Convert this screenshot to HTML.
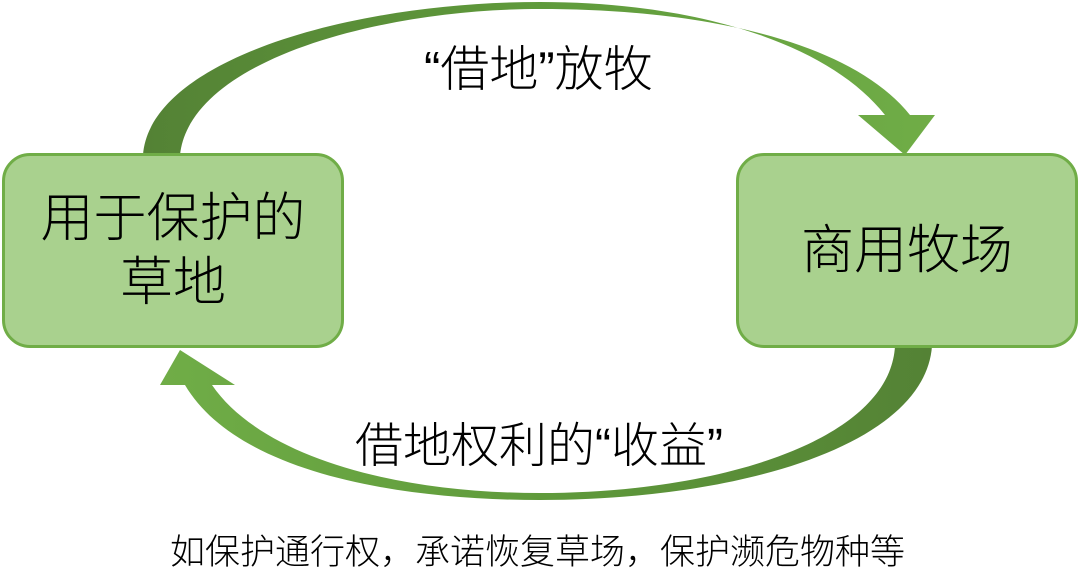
<!DOCTYPE html>
<html><head><meta charset="utf-8"><style>
html,body{margin:0;padding:0;background:#fff;}
body{width:1080px;height:588px;position:relative;overflow:hidden;font-family:"Liberation Sans","Noto Sans CJK SC",sans-serif;color:#000;}
.box{position:absolute;background:#a9d18e;border:3px solid #70ad47;border-radius:28px;box-sizing:border-box;display:flex;align-items:center;justify-content:center;text-align:center;font-size:53px;line-height:64px;font-weight:300;}
.t{position:absolute;white-space:nowrap;font-weight:300;}
</style></head><body>
<svg width="1080" height="588" style="position:absolute;left:0;top:0">
<defs>
<linearGradient id="g1" x1="0" x2="1" y1="0" y2="0"><stop offset="0" stop-color="#548235"/><stop offset="0.5" stop-color="#5f9a3b"/><stop offset="1" stop-color="#70ad47"/></linearGradient>
<linearGradient id="g2" x1="1" x2="0" y1="0" y2="0"><stop offset="0" stop-color="#548235"/><stop offset="0.5" stop-color="#5f9a3b"/><stop offset="1" stop-color="#70ad47"/></linearGradient>
</defs>
<path d="M143,155 C150,60 350,2 540,2 C700,2 830,45 885,115 L858,115 L905,155 L935,115 L910,115 C850,40 700,9 540,9 C380,9 190,60 180,155 Z" fill="url(#g1)"/>
<path d="M932,346 C925,445 740,500 540,500 C390,500 235,470 185,385 L160,385 L180,350 L235,385 L212,385 C260,455 390,493 540,493 C720,493 890,440 895,346 Z" fill="url(#g2)"/>
</svg>
<div class="box" style="left:2px;top:153px;width:342px;height:195px;">用于保护的<br>草地</div>
<div class="box" style="left:736px;top:153px;width:342px;height:195px;">商用牧场</div>
<div class="t" style="left:424px;top:30px;font-size:49px;">“借地”放牧</div>
<div class="t" style="left:355px;top:406px;font-size:48px;">借地权利的“收益”</div>
<div class="t" style="left:170px;top:524px;font-size:35px;">如保护通行权，承诺恢复草场，保护濒危物种等</div>
</body></html>
